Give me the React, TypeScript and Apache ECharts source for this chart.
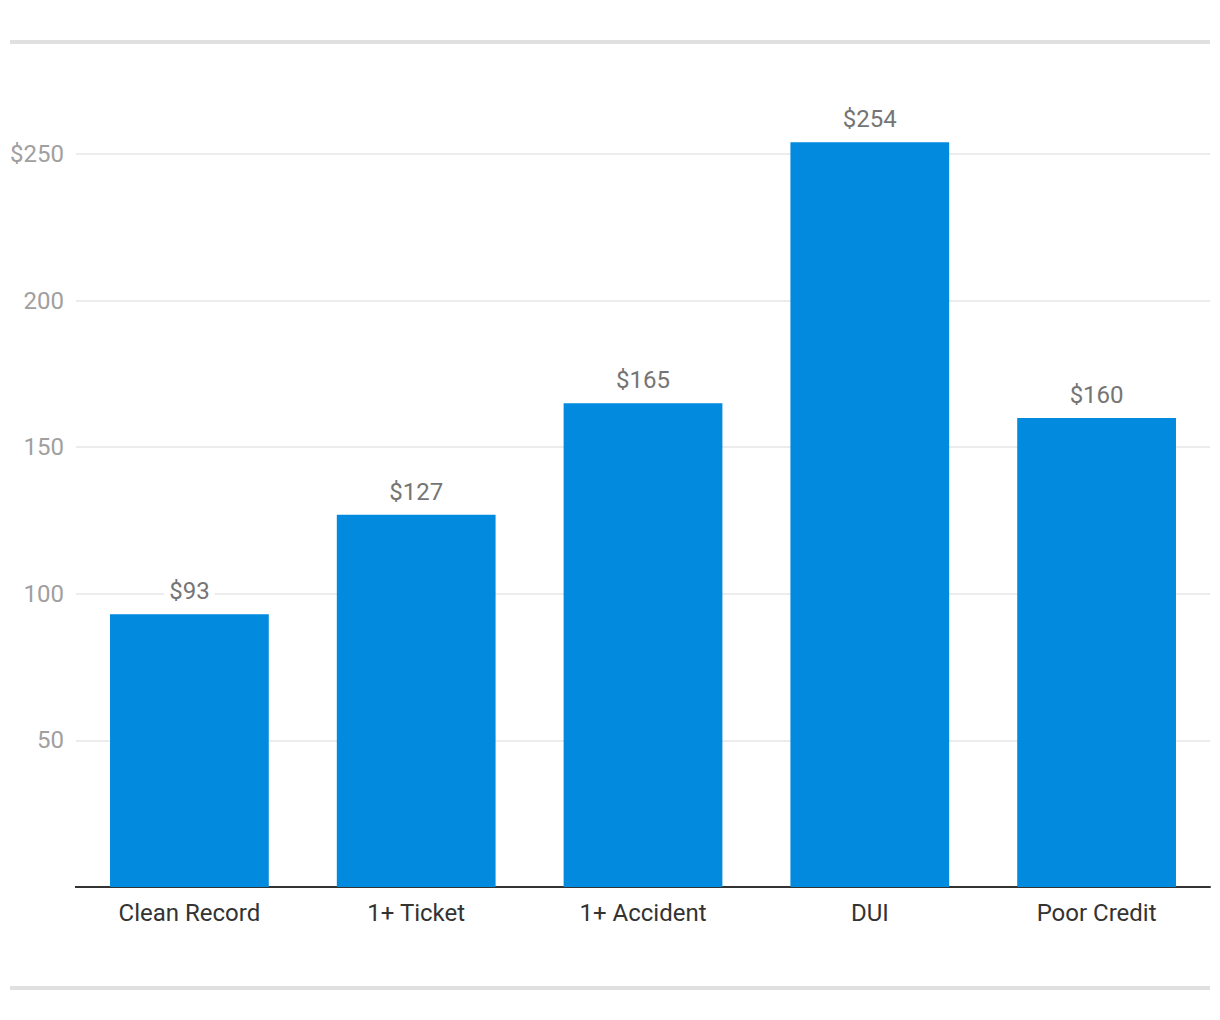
import React, { useEffect, useRef } from "react";
import * as echarts from "echarts";

const categories = ["Clean Record", "1+ Ticket", "1+ Accident", "DUI", "Poor Credit"];
const values = [93, 127, 165, 254, 160];
const yTicks = [0, 50, 100, 150, 200, 250];

export default function App() {
  const ref = useRef<HTMLDivElement>(null);
  useEffect(() => {
    const chart = echarts.init(ref.current!, null, { renderer: "svg" });
    chart.setOption({
      animation: false,
      backgroundColor: "#ffffff",
      textStyle: { fontFamily: "Roboto" },
      graphic: [
        { type: "rect", shape: { x: 10, y: 40, width: 1200, height: 4 }, style: { fill: "#e0e0e0" } },
        { type: "rect", shape: { x: 10, y: 986, width: 1200, height: 4 }, style: { fill: "#e0e0e0" } },
        { type: "rect", shape: { x: 75, y: 886, width: 2, height: 2 }, style: { fill: "#333333" } },
      ],
      grid: { left: 76, right: 10, top: 80.7, bottom: 133, containLabel: false },
      xAxis: {
        type: "category",
        data: categories,
        axisLine: { show: true, lineStyle: { color: "#333333", width: 2 } },
        axisTick: { show: false },
        axisLabel: { color: "#333333", fontSize: 24, margin: 14, fontFamily: "Roboto" },
      },
      yAxis: {
        type: "value",
        min: 0,
        max: 275,
        interval: 50,
        axisLine: { show: false },
        axisTick: { show: false },
        splitLine: { show: true, showMinLine: false, showMaxLine: false, lineStyle: { color: "#e6e6e6", width: 1.5 } },
        axisLabel: {
          color: "#a0a0a0",
          fontSize: 24,
          margin: 12,
          fontFamily: "Roboto",
          showMinLabel: false,
          showMaxLabel: false,
          formatter: (v: number) => (yTicks.includes(v) && v !== 0 ? (v === 250 ? "$" + v : String(v)) : ""),
        },
      },
      series: [
        {
          type: "bar",
          data: values,
          barWidth: "70%",
          itemStyle: { color: "#028ADE" },
          label: {
            show: true,
            position: "top",
            distance: 9,
            color: "#757575",
            fontSize: 24,
            fontFamily: "Roboto",
            backgroundColor: "#ffffff",
            padding: [2, 5],
            formatter: (p: any) => "$" + p.value,
          },
        },
      ],
    });
    return () => chart.dispose();
  }, []);
  return (
    <div
      ref={ref}
      style={{ position: "fixed", left: 0, top: 0, width: 1220, height: 1020, background: "#fff" }}
    />
  );
}
